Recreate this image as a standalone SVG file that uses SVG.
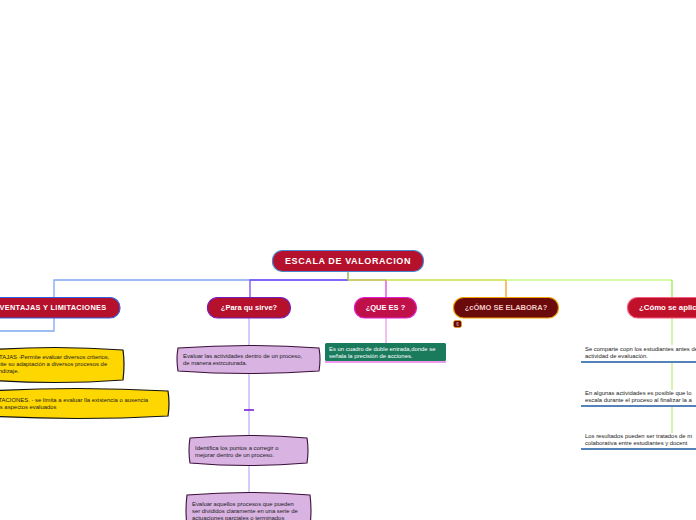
<svg xmlns="http://www.w3.org/2000/svg" width="696" height="520" viewBox="0 0 696 520">
<style>
.lbl{font-family:"Liberation Sans",Arial,sans-serif;font-weight:bold;fill:#fff;text-anchor:middle}
.body{font-family:"Liberation Sans",Arial,sans-serif;font-size:5.9px;fill:#222}
.conn{fill:none;stroke-width:1.3}
.yel{fill:#ffd700;stroke:#111;stroke-width:1.2}
.pur{fill:#d9b3e2;stroke:#3a0f3a;stroke-width:1.1}
.ul{stroke:#1a5aa0;stroke-width:1.6}
</style>
<rect width="696" height="520" fill="#fff"/>
<g id="connectors">
  <path class="conn" stroke="#7fa8f2" d="M348,271 V280 H54 V297"/>
  <path class="conn" stroke="#7fa8f2" d="M54,318 V331 H0"/>
  <path class="conn" stroke="#7a4cf6" d="M348,280 H250 V297"/>
  <path class="conn" stroke="#c4b0f8" d="M249,318 V345 M249,373 V436 M249,465 V492"/>
  <path stroke="#7a20d0" stroke-width="1.6" d="M244,410 H254"/>
  <path class="conn" stroke="#c0bc40" d="M348,280 H386"/>
  <path class="conn" stroke="#e040e0" d="M386,280 V297"/>
  <path class="conn" stroke="#e8a0e8" d="M386,318 V343"/>
  <path class="conn" stroke="#c8e040" d="M386,280 H506"/>
  <path class="conn" stroke="#f0a020" d="M506,280 V297"/>
  <path class="conn" stroke="#c8f888" d="M506,280 H672"/>
  <path class="conn" stroke="#98f040" d="M672,280 V297"/>
  <path class="conn" stroke="#c0f080" d="M672,318 V345 M672,363 V390 M672,407 V433"/>
  <path class="conn" stroke="#a8d040" d="M348,271 V280"/>
</g>
<g id="root">
  <rect x="272.5" y="250.5" width="151" height="21" rx="10" fill="#b5102c" stroke="#4a86d0" stroke-width="1.2"/>
  <text class="lbl" x="348" y="264" font-size="9" letter-spacing="0.6">ESCALA DE VALORACION</text>
</g>
<g id="ventajas">
  <rect x="-14" y="297.5" width="134" height="20.5" rx="10" fill="#b5102c" stroke="#3060e0" stroke-width="1.2"/>
  <text class="lbl" x="53" y="310" font-size="7.4" letter-spacing="0.3">VENTAJAS Y LIMITACIONES</text>
</g>
<g id="ventajas-item">
  <path class="yel" d="M-14,350 Q55,345 123,350 Q125,364 123,380 Q55,385 -14,380 Z"/>
  <text class="body" x="-13" y="359">VENTAJAS -Permite evaluar diversos criterios,</text>
  <text class="body" x="-13" y="366">permite su adaptación a diversos procesos de</text>
  <text class="body" x="-13" y="373">aprendizaje.</text>
</g>
<g id="limitaciones-item">
  <path class="yel" d="M-14,391 Q77,386 168,391 Q170,403 168,416 Q77,421 -14,416 Z"/>
  <text class="body" x="-13" y="402">LIMITACIONES. - se limita a evaluar lla existencia o ausencia</text>
  <text class="body" x="-13" y="409">de los aspectos evaluados</text>
</g>
<g id="para">
  <rect x="207.5" y="297.5" width="83" height="20.5" rx="10" fill="#b5102c" stroke="#7020c0" stroke-width="1.2"/>
  <text class="lbl" x="249" y="310" font-size="7.5">¿Para qu sirve?</text>
</g>
<g id="para-1">
  <path class="pur" d="M178,348 Q249,343 319,348 Q321,359 319,371 Q249,376 178,371 Q176,359 178,348 Z"/>
  <text class="body" x="183" y="358">Evaluar  las actividades dentro de un proceso,</text>
  <text class="body" x="183" y="365">de manera estrcuturada.</text>
</g>
<g id="para-2">
  <path class="pur" d="M190,438 Q249,433 307,438 Q309,450 307,463 Q249,468 190,463 Q188,450 190,438 Z"/>
  <text class="body" x="195" y="450">Identifica los puntos a corregir o</text>
  <text class="body" x="195" y="457">mejorar dentro de un proceso.</text>
</g>
<g id="para-3">
  <path class="pur" d="M187,495 Q249,490 310,495 Q312,510 310,526 L187,526 Q185,510 187,495 Z"/>
  <text class="body" x="192" y="506">Evaluar aquellos procesos que pueden</text>
  <text class="body" x="192" y="513">ser divididos claramente en una serie de</text>
  <text class="body" x="192" y="520">actuaciones parciales o terminados</text>
</g>
<g id="quees">
  <rect x="354.5" y="297.5" width="62" height="20.5" rx="10" fill="#c0104a" stroke="#e020d0" stroke-width="1.2"/>
  <text class="lbl" x="385.5" y="310" font-size="7.5">¿QUE ES ?</text>
</g>
<g id="quees-1">
  <rect x="325" y="343" width="121" height="18" rx="1.5" fill="#1a7a5c"/>
  <path d="M325,362 H446" stroke="#e030e0" stroke-width="1.2"/>
  <text class="body" x="329" y="351" style="fill:#fff">Es un cuadro de doble entrada,donde se</text>
  <text class="body" x="329" y="358" style="fill:#fff">señala la precisión de acciones.</text>
</g>
<g id="elabora">
  <rect x="453.5" y="297.5" width="105" height="20.5" rx="10" fill="#6a0a0a" stroke="#f0a000" stroke-width="1.2"/>
  <text class="lbl" x="506" y="310" font-size="7.5" style="fill:#f0c8c8">¿cÓMO SE ELABORA?</text>
  <rect x="453.5" y="320.5" width="8" height="7" rx="2" fill="#6a0a0a" stroke="#f0a000" stroke-width="0.6"/>
  <text x="457.5" y="326" font-family="Liberation Sans,Arial,sans-serif" font-size="4.5" fill="#f0c8c8" text-anchor="middle">6</text>
</g>
<g id="aplica">
  <rect x="627.5" y="297.5" width="90" height="20.5" rx="10" fill="#c0102a" stroke="#f06080" stroke-width="1.2"/>
  <text class="lbl" x="639" y="310" font-size="7.8" style="text-anchor:start">¿Cómo se aplica?</text>
</g>
<g id="aplica-1">
  <text class="body" x="585" y="351">Se comparte copn los estudiantes antes de</text>
  <text class="body" x="585" y="358">actividad de evaluación.</text>
  <path class="ul" d="M581,362 H696"/>
</g>
<g id="aplica-2">
  <text class="body" x="585" y="395">En algunas actividades es posible que lo</text>
  <text class="body" x="585" y="402">escala durante el proceso al finalizar la a</text>
  <path class="ul" d="M581,406 H696"/>
</g>
<g id="aplica-3">
  <text class="body" x="585" y="438">Los resultados pueden ser tratados de m</text>
  <text class="body" x="585" y="445">colaborativa entre estudiantes y docent</text>
  <path class="ul" d="M581,449 H696"/>
</g>
</svg>
